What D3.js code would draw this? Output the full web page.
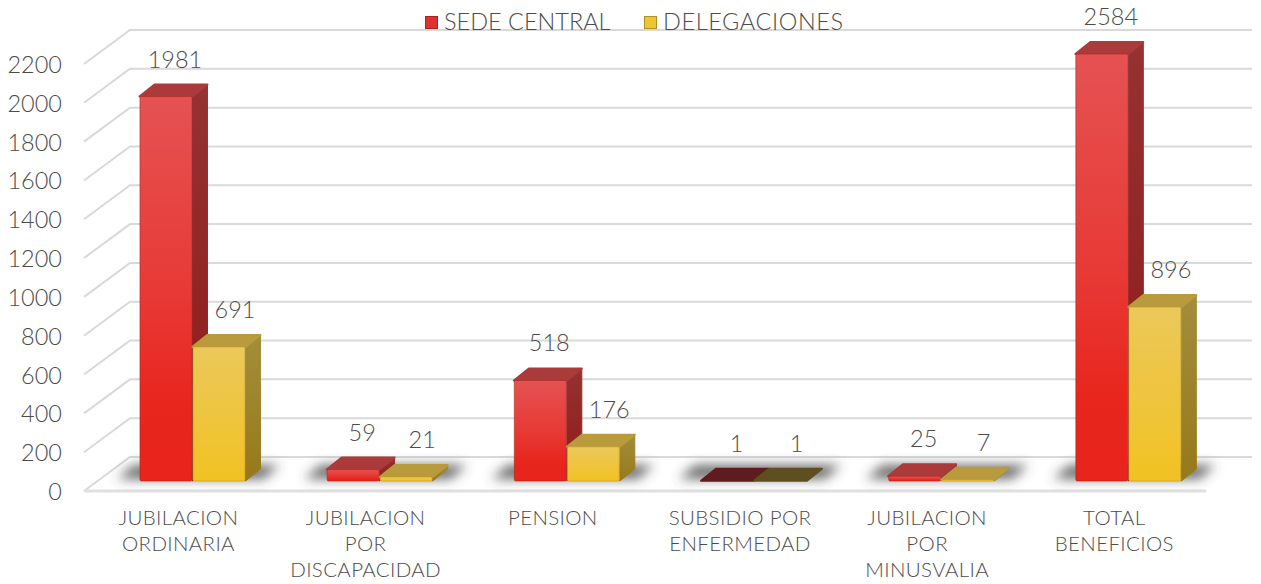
<!DOCTYPE html>
<html><head><meta charset="utf-8">
<script src="https://d3js.org/d3.v7.min.js"></script>
<style>
html,body{margin:0;padding:0;background:#fff;overflow:hidden}
text{font-family:Lato,"Open Sans",sans-serif;fill:#4c4c4c;font-weight:300}
</style></head><body><svg id="c" width="1261" height="584"></svg>
<script>
const categories=["JUBILACION ORDINARIA","JUBILACION POR DISCAPACIDAD","PENSION","SUBSIDIO POR ENFERMEDAD","JUBILACION POR MINUSVALIA","TOTAL BENEFICIOS"];
const categoryLines=[["JUBILACION","ORDINARIA"],["JUBILACION","POR","DISCAPACIDAD"],["PENSION"],["SUBSIDIO POR","ENFERMEDAD"],["JUBILACION","POR","MINUSVALIA"],["TOTAL","BENEFICIOS"]];
const sedeCentral=[1981,59,518,1,25,2584];
const delegaciones=[691,21,176,1,7,896];
const seriesNames=["SEDE CENTRAL","DELEGACIONES"];
const tickValues=[0,200,400,600,800,1000,1200,1400,1600,1800,2000,2200];

const svg=d3.select("#c");
const defs=svg.append("defs");
function grad(id,stops){const g=defs.append("linearGradient").attr("id",id).attr("x1",0).attr("y1",0).attr("x2",0).attr("y2",1);
 stops.forEach(([o,c])=>g.append("stop").attr("offset",o).attr("stop-color",c));}
grad("fr0",[[0,"#e55252"],[.5,"#e73a36"],[.8,"#e8261e"],[1,"#e8241c"]]);
grad("fr1",[[0,"#ebc85a"],[.5,"#eec53e"],[1,"#f2c223"]]);
grad("si0",[[0,"#953232"],[1,"#8f1a18"]]);
grad("si1",[[0,"#a38d3c"],[1,"#97791a"]]);
defs.append("filter").attr("id","blur").attr("x","-30%").attr("y","-80%").attr("width","160%").attr("height","260%")
 .append("feGaussianBlur").attr("stdDeviation",6);

const y=d3.scaleLinear().domain([0,2200]).range([457,30]).clamp(true);
const x0=d3.scaleBand().domain(categories).range([98.9,1221.9]).paddingInner(.4337).paddingOuter(.2168);
const x1=d3.scaleBand().domain(seriesNames).range([0,x0.bandwidth()]);
const sideDx=-46, sideDy=34, frontDy=24, depthX=15, depthY=12;

// walls
const grid=svg.append("g").attr("fill","none").attr("stroke","#d9d9d9").attr("stroke-width",2);
grid.selectAll("path").data(tickValues).join("path")
 .attr("d",v=>`M${130+sideDx},${y(v)+sideDy}L130,${y(v)}L1252,${y(v)}`);
grid.append("path").attr("d",`M${130+sideDx},${y(0)+sideDy}L${1252+sideDx},${y(0)+sideDy}`).attr("stroke","#e0e0e0").attr("stroke-width",3);

// y labels
svg.append("g").selectAll("text").data(tickValues).join("text")
 .attr("x",62).attr("y",v=>y(v)+sideDy+9).attr("text-anchor","end").attr("font-size",23.5).text(v=>v);

// floor shadows
svg.append("g").attr("filter","url(#blur)").selectAll("path").data(categories).join("path")
 .attr("fill","#444").attr("opacity",.8)
 .attr("d",c=>{const l=x0(c)-22,r=x0(c)+x0.bandwidth()+18,b=y(0)+frontDy-2,t=y(0)+8;
   return `M${l},${b}L${r},${b}L${r+16},${t}L${l+16},${t}Z`;});

// bars
const series=[sedeCentral,delegaciones];
const tops=[["#ab3b3b","#5e1c1e"],["#b99b3e","#5f4f20"]];
const edges=["#a52a22","#c09a2a"];
seriesNames.forEach((name,si)=>{
 const g=svg.append("g").attr("stroke-linejoin","round");
 categories.forEach((c,i)=>{
  const v=series[si][i],xl=x0(c)+x1(name),w=x1.bandwidth(),yb=y(0)+frontDy,yt=y(v)+frontDy;
  g.append("path").attr("d",`M${xl+w},${yb}L${xl+w+depthX},${yb-depthY}L${xl+w+depthX},${yt-depthY}L${xl+w},${yt}Z`)
   .attr("fill",`url(#si${si})`).attr("stroke",v<=1?"none":`url(#si${si})`).attr("stroke-width",1);
  g.append("path").attr("d",`M${xl},${yt}L${xl+depthX},${yt-depthY}L${xl+w+depthX},${yt-depthY}L${xl+w},${yt}Z`)
   .attr("fill",tops[si][v<=1?1:0]).attr("stroke",tops[si][v<=1?1:0]).attr("stroke-width",2);
  if(yb-yt>=1) g.append("rect").attr("x",xl+.5).attr("y",yt).attr("width",w-1).attr("height",yb-yt).attr("rx",1.5)
   .attr("fill",`url(#fr${si})`).attr("stroke",edges[si]).attr("stroke-opacity",.6).attr("stroke-width",1);
 });
});

// value labels
seriesNames.forEach((name,si)=>{
 svg.append("g").selectAll("text").data(categories).join("text")
  .attr("x",c=>x0(c)+x1(name)+x1.bandwidth()/2+(si?16:9))
  .attr("y",(c,i)=>y(series[si][i])+frontDy-29)
  .attr("text-anchor","middle").attr("font-size",23.5)
  .text((c,i)=>series[si][i]);
});

// category labels
const cat=svg.append("g").selectAll("text").data(categories).join("text")
 .attr("text-anchor","middle").attr("font-size",20.5).attr("letter-spacing",.35);
cat.each(function(c,i){d3.select(this).selectAll("tspan").data(categoryLines[i]).join("tspan")
 .attr("x",x0(c)+x0.bandwidth()/2-14).attr("y",(l,j)=>525+j*26).text(l=>l);});

// legend
const lg=svg.append("g");
const legendX=[425,644], legendFill=["#e03030","#ecc535"], legendEdge=["#a82222","#b09020"], legendSpacing=[0,.6];
seriesNames.forEach((n,i)=>{
 lg.append("rect").attr("x",legendX[i]+.5).attr("y",16.5).attr("width",12).attr("height",12)
  .attr("fill",legendFill[i]).attr("stroke",legendEdge[i]).attr("stroke-width",1);
 lg.append("text").attr("x",legendX[i]+19).attr("y",30).attr("font-size",23.5).attr("letter-spacing",legendSpacing[i]).text(n);
});
</script></body></html>
